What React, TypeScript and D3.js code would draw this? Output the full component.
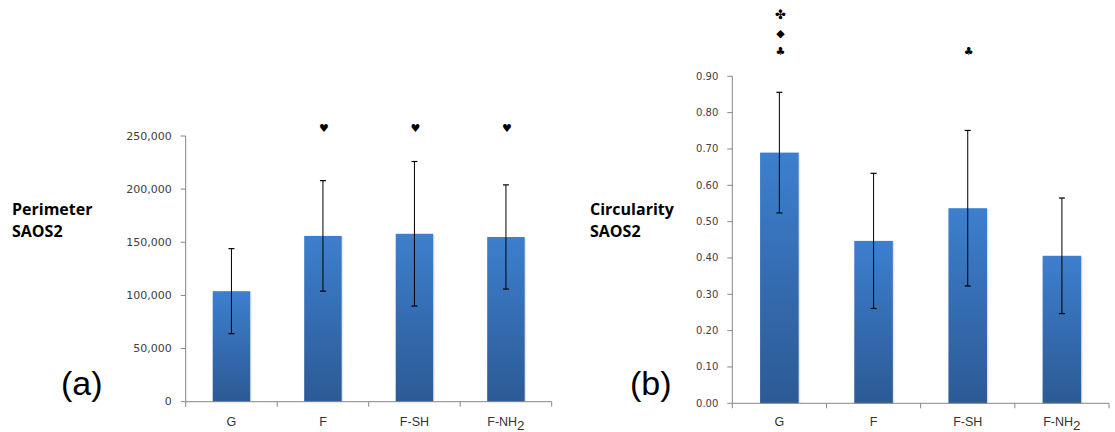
import React from 'react'
import * as d3 from 'd3'

// categories shared by both panels
const categories = ['G', 'F', 'F-SH', 'F-NH2']

// (a) perimeter, mean and error
const perimeterMeans = [104000, 156000, 158000, 155000]
const perimeterErrors = [40000, 52000, 68000, 49000]
const perimeterTicks = [0, 50000, 100000, 150000, 200000, 250000]
const perimeterMarks = [[], ['♥'], ['♥'], ['♥']]

// (b) circularity, mean and error
const circularityMeans = [0.69, 0.447, 0.537, 0.406]
const circularityErrors = [0.166, 0.186, 0.214, 0.159]
const circularityTicks = [0, 0.1, 0.2, 0.3, 0.4, 0.5, 0.6, 0.7, 0.8, 0.9]
const circularityMarks = [['♣', '◆', '✤'], [], ['♣'], []]

const AXIS = '#868686'
const TICK_TEXT = '#404040'

function CatLabel({ name, x, y }) {
    if (name.endsWith('2')) {
        return (
            <text x={x} y={y} textAnchor="middle" fontFamily="Liberation Sans, Arial, sans-serif" fontSize={12.5} fill="#333">
                {name.slice(0, -1)}
                <tspan dy={4} fontSize={13.5}>2</tspan>
            </text>
        )
    }
    return (
        <text x={x} y={y} textAnchor="middle" fontFamily="Liberation Sans, Arial, sans-serif" fontSize={12.5} fill="#333">
            {name}
        </text>
    )
}

function Panel({ left, right, top, bottom, max, means, errors, ticks, format, marks, markY, markStep, tickFont, title, titleX, tag, tagX }) {
    const x = d3.scaleBand().domain(categories).range([left, right]).padding(0)
    const y = d3.scaleLinear().domain([0, max]).range([bottom, top])
    const bw = x.bandwidth() * 0.41
    const bounds = d3.range(categories.length + 1).map(i => left + i * x.step())
    return (
        <g>
            {means.map((v, i) => {
                const cx = x(categories[i]) + x.bandwidth() / 2
                const hi = y(v + errors[i])
                const lo = y(v - errors[i])
                return (
                    <g key={i}>
                        <rect x={cx - bw / 2 + 1.5} y={y(v) + 1} width={bw} height={bottom - y(v) - 1} fill="#d8d8d8" opacity={0.6} />
                        <rect x={cx - bw / 2} y={y(v)} width={bw} height={bottom - y(v)} fill="url(#barGrad)" />
                        <line x1={cx} x2={cx} y1={hi} y2={lo} stroke="#000" strokeWidth={1} />
                        <line x1={cx - 3} x2={cx + 3} y1={hi} y2={hi} stroke="#000" strokeWidth={1.2} />
                        <line x1={cx - 3} x2={cx + 3} y1={lo} y2={lo} stroke="#000" strokeWidth={1.2} />
                        {marks[i].map((m, j) => (
                            <text key={j} x={cx + 1} y={markY - j * markStep} textAnchor="middle" dominantBaseline="central"
                                  fontFamily="DejaVu Sans, sans-serif" fontSize={m === '✤' ? 13 : 11} fill="#000">{m}</text>
                        ))}
                        <CatLabel name={categories[i]} x={cx} y={426} />
                    </g>
                )
            })}
            <line x1={left} x2={left} y1={top} y2={bottom} stroke={AXIS} />
            <line x1={left} x2={right} y1={bottom} y2={bottom} stroke={AXIS} />
            {ticks.map(t => (
                <g key={t}>
                    <line x1={left - 5} x2={left} y1={y(t)} y2={y(t)} stroke={AXIS} />
                    <text x={left - 14} y={y(t)} textAnchor="end" dominantBaseline="central"
                          fontFamily="DejaVu Sans, Verdana, sans-serif" fontSize={tickFont} fill={TICK_TEXT}>{format(t)}</text>
                </g>
            ))}
            {bounds.map((b, i) => (
                <line key={i} x1={b} x2={b} y1={bottom} y2={bottom + 5} stroke={AXIS} />
            ))}
            <text x={titleX} y={215} fontFamily="Open Sans, sans-serif" fontWeight="bold" fontSize={16} fill="#000">
                <tspan x={titleX}>{title}</tspan>
                <tspan x={titleX} dy={22}>SAOS2</tspan>
            </text>
            <text x={tagX} y={395} fontFamily="Liberation Sans, Arial, sans-serif" fontSize={34} fill="#000">{tag}</text>
        </g>
    )
}

export default function App() {
    return (
        <svg width={1115} height={432} style={{ position: 'absolute', left: 0, top: 0, background: '#fff' }}>
            <defs>
                <linearGradient id="barGrad" x1="0" y1="0" x2="0" y2="1">
                    <stop offset="0" stopColor="#3d7fce" />
                    <stop offset="1" stopColor="#2c5a95" />
                </linearGradient>
            </defs>
            <Panel left={185.7} right={551.7} top={136} bottom={401.7} max={250000}
                   means={perimeterMeans} errors={perimeterErrors} ticks={perimeterTicks}
                   format={d3.format(',')} marks={perimeterMarks} markY={128} markStep={18}
                   tickFont={11} title="Perimeter" titleX={12} tag="(a)" tagX={61} />
            <Panel left={732.3} right={1109} top={76.3} bottom={403.3} max={0.9}
                   means={circularityMeans} errors={circularityErrors} ticks={circularityTicks}
                   format={d3.format('.2f')} marks={circularityMarks} markY={51.5} markStep={18.3}
                   tickFont={10} title="Circularity" titleX={590} tag="(b)" tagX={630} />
        </svg>
    )
}
